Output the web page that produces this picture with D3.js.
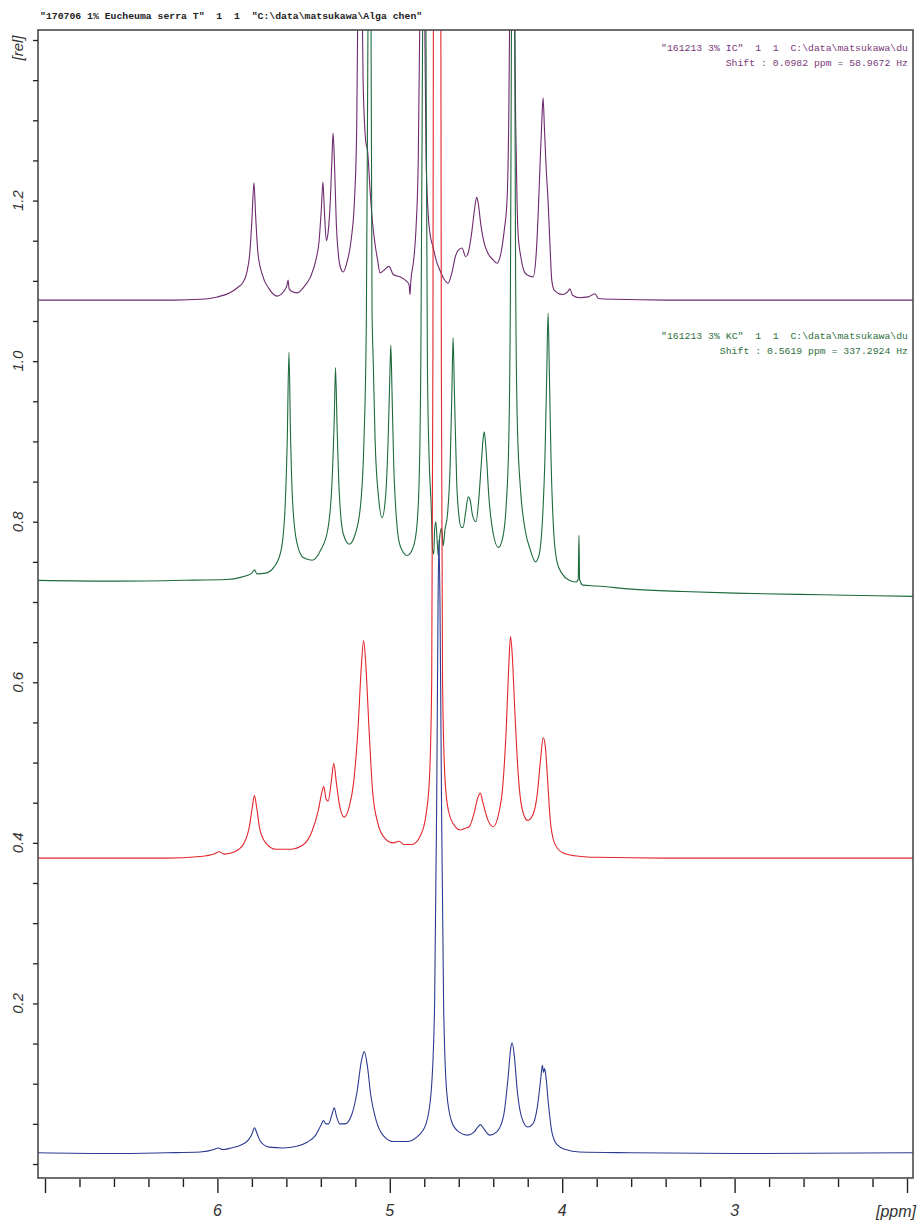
<!DOCTYPE html>
<html><head><meta charset="utf-8">
<script src="https://cdn.jsdelivr.net/npm/d3@7"></script>
<style>body{margin:0;background:#fff}svg{display:block}</style>
</head><body>
<svg id="c" width="918" height="1224"></svg>
<script>
// ---- data (ppm, relative intensity) ----
const titleText = '"170706 1% Eucheuma serra T"  1  1  "C:\\data\\matsukawa\\Alga chen"';
const icNote = ['"161213 3% IC"  1  1  C:\\data\\matsukawa\\du', 'Shift : 0.0982 ppm = 58.9672 Hz'];
const kcNote = ['"161213 3% KC"  1  1  C:\\data\\matsukawa\\du', 'Shift : 0.5619 ppm = 337.2924 Hz'];
const xTickLabels = ["6", "5", "4", "3"];
const yTickLabels = ["0.2", "0.4", "0.6", "0.8", "1.0", "1.2"];

const blueSpectrum = [
[7.04,0.014],[6.60,0.013],[6.30,0.014],[6.10,0.015],[6.02,0.018],[5.995,0.020],[5.97,0.018],[5.92,0.020],[5.86,0.024],[5.82,0.030],[5.80,0.037],[5.785,0.045],[5.77,0.038],[5.75,0.028],[5.70,0.021],[5.62,0.020],[5.54,0.022],[5.48,0.027],[5.43,0.036],[5.40,0.048],[5.385,0.054],[5.37,0.050],[5.355,0.050],[5.335,0.062],[5.322,0.070],[5.31,0.060],[5.29,0.050],[5.26,0.050],[5.22,0.062],[5.19,0.090],[5.165,0.128],[5.148,0.140],[5.13,0.122],[5.11,0.085],[5.08,0.055],[5.04,0.036],[4.98,0.028],[4.90,0.028],[4.84,0.034],[4.79,0.050],[4.76,0.090],[4.74,0.20],[4.728,0.45],[4.72,0.70],[4.715,0.777],[4.709,0.70],[4.70,0.45],[4.688,0.20],[4.67,0.090],[4.64,0.052],[4.60,0.040],[4.55,0.036],[4.51,0.040],[4.49,0.046],[4.474,0.049],[4.455,0.044],[4.42,0.036],[4.38,0.040],[4.34,0.060],[4.315,0.105],[4.298,0.145],[4.29,0.151],[4.278,0.135],[4.26,0.090],[4.235,0.058],[4.20,0.046],[4.17,0.050],[4.145,0.070],[4.125,0.105],[4.115,0.123],[4.108,0.114],[4.102,0.119],[4.095,0.110],[4.08,0.075],[4.06,0.040],[4.03,0.024],[3.98,0.018],[3.90,0.015],[3.60,0.014],[3.00,0.013],[1.965,0.014]
];

const redSpectrum = [
[7.04,0.381],[6.60,0.381],[6.30,0.381],[6.10,0.383],[6.02,0.386],[5.99,0.389],[5.96,0.386],[5.90,0.389],[5.85,0.398],[5.815,0.420],[5.797,0.445],[5.785,0.459],[5.773,0.445],[5.755,0.418],[5.72,0.400],[5.66,0.392],[5.58,0.392],[5.50,0.398],[5.45,0.415],[5.415,0.440],[5.395,0.462],[5.383,0.470],[5.37,0.455],[5.358,0.452],[5.34,0.475],[5.325,0.499],[5.31,0.475],[5.29,0.445],[5.265,0.432],[5.235,0.445],[5.21,0.475],[5.185,0.540],[5.165,0.620],[5.152,0.652],[5.14,0.625],[5.12,0.540],[5.10,0.465],[5.07,0.425],[5.03,0.406],[4.98,0.400],[4.945,0.402],[4.92,0.398],[4.87,0.398],[4.82,0.410],[4.79,0.435],[4.77,0.48],[4.757,0.60],[4.75,1.0],[4.746,1.6],[4.726,3.0],[4.705,1.6],[4.701,1.0],[4.694,0.60],[4.68,0.48],[4.66,0.440],[4.62,0.420],[4.59,0.416],[4.565,0.418],[4.54,0.420],[4.51,0.438],[4.49,0.456],[4.475,0.462],[4.46,0.450],[4.43,0.428],[4.40,0.420],[4.37,0.435],[4.345,0.470],[4.325,0.540],[4.31,0.620],[4.30,0.657],[4.29,0.635],[4.275,0.565],[4.255,0.485],[4.23,0.440],[4.20,0.428],[4.17,0.435],[4.145,0.460],[4.125,0.505],[4.11,0.531],[4.098,0.520],[4.085,0.480],[4.07,0.430],[4.045,0.400],[4.00,0.388],[3.93,0.384],[3.80,0.382],[3.40,0.381],[1.965,0.381]
];

const greenSpectrum = [
[7.04,0.727],[6.60,0.726],[6.20,0.727],[5.95,0.728],[5.86,0.731],[5.80,0.736],[5.785,0.740],[5.77,0.735],[5.72,0.736],[5.67,0.744],[5.63,0.765],[5.607,0.820],[5.595,0.900],[5.585,1.011],[5.576,0.910],[5.565,0.830],[5.54,0.775],[5.50,0.755],[5.45,0.752],[5.40,0.765],[5.36,0.790],[5.335,0.850],[5.322,0.930],[5.315,0.992],[5.306,0.920],[5.294,0.840],[5.27,0.785],[5.235,0.772],[5.20,0.785],[5.17,0.820],[5.15,0.900],[5.136,1.05],[5.127,1.40],[5.118,1.70],[5.11,1.50],[5.103,1.063],[5.096,1.00],[5.085,0.90],[5.065,0.830],[5.045,0.805],[5.025,0.830],[5.01,0.900],[5.0,0.980],[4.994,1.020],[4.987,0.960],[4.977,0.870],[4.96,0.800],[4.94,0.770],[4.90,0.758],[4.87,0.765],[4.845,0.790],[4.83,0.850],[4.82,1.00],[4.81,1.40],[4.80,1.80],[4.79,1.40],[4.782,1.00],[4.772,0.880],[4.76,0.820],[4.752,0.765],[4.745,0.760],[4.74,0.790],[4.733,0.800],[4.725,0.775],[4.718,0.757],[4.71,0.782],[4.70,0.792],[4.69,0.770],[4.68,0.790],[4.665,0.810],[4.65,0.870],[4.64,0.960],[4.633,1.029],[4.625,0.960],[4.612,0.850],[4.598,0.805],[4.585,0.793],[4.575,0.793],[4.56,0.812],[4.545,0.831],[4.535,0.828],[4.52,0.808],[4.50,0.800],[4.485,0.825],[4.47,0.870],[4.458,0.905],[4.452,0.912],[4.442,0.890],[4.425,0.830],[4.40,0.785],[4.37,0.768],[4.345,0.780],[4.325,0.820],[4.31,0.900],[4.30,1.10],[4.293,1.50],[4.285,1.90],[4.277,1.50],[4.27,1.10],[4.26,0.920],[4.24,0.835],[4.215,0.790],[4.185,0.765],[4.155,0.750],[4.135,0.758],[4.115,0.800],[4.10,0.880],[4.09,0.980],[4.082,1.060],[4.074,0.980],[4.065,0.880],[4.05,0.790],[4.03,0.750],[4.00,0.735],[3.96,0.727],[3.92,0.725],[3.907,0.728],[3.903,0.783],[3.899,0.728],[3.88,0.721],[3.80,0.720],[3.60,0.716],[3.30,0.713],[3.00,0.711],[2.50,0.709],[1.965,0.707]
];

const purpleSpectrum = [
[7.04,1.076],[6.60,1.076],[6.25,1.076],[6.10,1.077],[6.00,1.080],[5.93,1.085],[5.88,1.092],[5.852,1.098],[5.83,1.110],[5.812,1.135],[5.80,1.175],[5.788,1.222],[5.778,1.180],[5.765,1.135],[5.74,1.108],[5.70,1.090],[5.654,1.081],[5.615,1.087],[5.597,1.094],[5.590,1.101],[5.584,1.090],[5.56,1.086],[5.538,1.085],[5.50,1.092],[5.46,1.105],[5.43,1.125],[5.41,1.150],[5.397,1.190],[5.388,1.223],[5.379,1.185],[5.368,1.150],[5.358,1.160],[5.345,1.200],[5.336,1.250],[5.329,1.284],[5.32,1.240],[5.31,1.170],[5.298,1.132],[5.285,1.116],[5.27,1.111],[5.25,1.122],[5.225,1.150],[5.205,1.200],[5.192,1.290],[5.183,1.50],[5.175,1.75],[5.165,1.55],[5.155,1.35],[5.14,1.275],[5.128,1.260],[5.115,1.215],[5.103,1.179],[5.085,1.145],[5.07,1.125],[5.057,1.110],[5.035,1.113],[5.005,1.118],[4.98,1.108],[4.941,1.105],[4.905,1.100],[4.888,1.095],[4.883,1.083],[4.878,1.100],[4.862,1.125],[4.848,1.165],[4.835,1.250],[4.822,1.50],[4.812,1.75],[4.80,1.50],[4.79,1.260],[4.778,1.185],[4.767,1.159],[4.749,1.142],[4.73,1.125],[4.709,1.113],[4.685,1.102],[4.662,1.097],[4.64,1.110],[4.62,1.130],[4.604,1.138],[4.581,1.141],[4.56,1.130],[4.545,1.135],[4.525,1.160],[4.508,1.190],[4.496,1.204],[4.488,1.198],[4.472,1.170],[4.45,1.145],[4.43,1.134],[4.40,1.126],[4.378,1.122],[4.355,1.135],[4.335,1.165],[4.32,1.200],[4.31,1.30],[4.30,1.55],[4.29,1.85],[4.28,1.55],[4.27,1.30],[4.262,1.200],[4.256,1.159],[4.24,1.130],[4.216,1.110],[4.19,1.106],[4.169,1.105],[4.152,1.130],[4.14,1.180],[4.129,1.242],[4.118,1.300],[4.111,1.328],[4.103,1.290],[4.093,1.240],[4.082,1.200],[4.07,1.140],[4.06,1.100],[4.045,1.088],[4.00,1.083],[3.97,1.086],[3.955,1.090],[3.94,1.082],[3.90,1.079],[3.85,1.080],[3.81,1.084],[3.79,1.078],[3.70,1.077],[3.40,1.076],[1.965,1.076]
];

// ---- drawing ----
const svg = d3.select("#c");
const frame = {left: 38, right: 913, top: 30, bottom: 1178};
const x = d3.scaleLinear().domain([7, 2]).range([45, 907]);
const y = d3.scaleLinear().domain([0, 1.4]).range([1164, 40]);

svg.append("defs").append("clipPath").attr("id", "plotclip")
  .append("rect").attr("x", frame.left).attr("y", frame.top)
  .attr("width", frame.right - frame.left).attr("height", frame.bottom - frame.top);

const line = d3.line().x(d => x(d[0])).y(d => y(d[1])).curve(d3.curveMonotoneX);
const series = [
  {data: purpleSpectrum, color: "#6e2a6e"},
  {data: greenSpectrum, color: "#1d6a3c"},
  {data: blueSpectrum, color: "#2c3b93"},
  {data: redSpectrum, color: "#e3262b"}
];
const g = svg.append("g").attr("clip-path", "url(#plotclip)");
series.forEach(s => {
  g.append("path").attr("d", line(s.data)).attr("fill", "none")
    .attr("stroke", s.color).attr("stroke-width", 1.1).attr("stroke-linejoin", "round");
});

// frame
svg.append("rect").attr("x", frame.left).attr("y", frame.top)
  .attr("width", frame.right - frame.left).attr("height", frame.bottom - frame.top)
  .attr("fill", "none").attr("stroke", "#4a4a4a").attr("stroke-width", 1.6);

// y axis ticks
const yAxis = d3.axisLeft(y).ticks(28).tickSize(5).tickSizeOuter(0).tickFormat("");
const ya = svg.append("g").attr("transform", `translate(${frame.left},0)`).call(yAxis);
ya.select(".domain").remove();
ya.selectAll("line").attr("stroke", "#222").attr("stroke-width", 1.3);

const labFont = "'Liberation Sans Narrow','Liberation Sans',Arial,sans-serif";
yTickLabels.forEach(t => {
  svg.append("text").attr("transform", `translate(23,${y(+t)}) rotate(-90)`)
    .attr("text-anchor", "middle").attr("font-family", labFont).attr("font-style", "italic")
    .attr("font-size", 15).attr("fill", "#333").text(t);
});
svg.append("text").attr("transform", `translate(23,${y(1.4) + 8}) rotate(-90)`)
  .attr("text-anchor", "middle").attr("font-family", labFont).attr("font-style", "italic")
  .attr("font-size", 15).attr("fill", "#333").text("[rel]");

// x axis ticks
const xAxis = d3.axisBottom(x).ticks(25).tickSizeOuter(0).tickFormat("");
const xa = svg.append("g").attr("transform", `translate(0,${frame.bottom + 1})`).call(xAxis);
xa.select(".domain").remove();
xa.selectAll("line").attr("stroke", "#222").attr("stroke-width", 1.4)
  .attr("y2", d => Math.abs(d - Math.round(d)) < 1e-6 ? 14 : 8);
xTickLabels.forEach(t => {
  svg.append("text").attr("x", x(+t)).attr("y", 1216).attr("text-anchor", "middle")
    .attr("font-family", labFont).attr("font-style", "italic").attr("font-size", 16)
    .attr("fill", "#333").text(t);
});
svg.append("text").attr("x", 896).attr("y", 1217).attr("text-anchor", "middle")
  .attr("font-family", labFont).attr("font-style", "italic").attr("font-size", 16)
  .attr("fill", "#333").text("[ppm]");

// header texts
const monoFont = "'Liberation Mono','DejaVu Sans Mono',monospace";
function monoText(str, xx, yy, anchor, color, weight, size) {
  svg.append("text").attr("x", xx).attr("y", yy).attr("text-anchor", anchor)
    .attr("font-family", monoFont).attr("font-size", size).attr("font-weight", weight)
    .attr("fill", color).attr("xml:space", "preserve").style("white-space", "pre")
    .text(str);
}
monoText(titleText, 40, 19, "start", "#222", "bold", 9.8);
monoText(icNote[0], 908, 51, "end", "#7a3a7a", "normal", 9.8);
monoText(icNote[1], 908, 66, "end", "#7a3a7a", "normal", 9.8);
monoText(kcNote[0], 908, 339, "end", "#2f7040", "normal", 9.8);
monoText(kcNote[1], 908, 354, "end", "#2f7040", "normal", 9.8);
</script>
</body></html>
